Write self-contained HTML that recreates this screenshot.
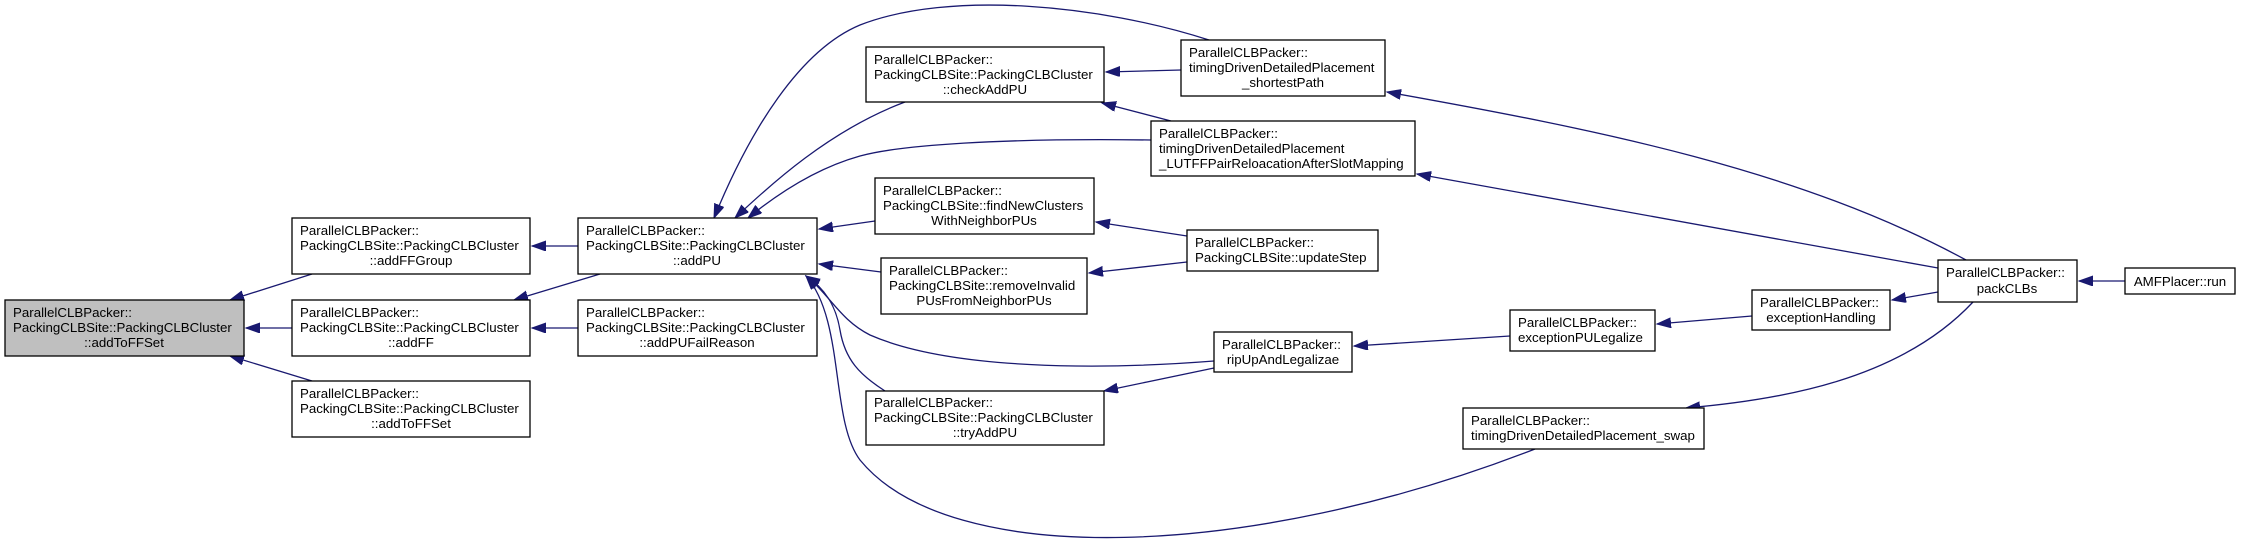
<!DOCTYPE html>
<html><head><meta charset="utf-8"><style>
html,body{margin:0;padding:0;background:#fff;width:2241px;height:540px;overflow:hidden}
text{font-family:"Liberation Sans",Arial,sans-serif;font-size:13.3px;fill:#000}
.b{fill:#fff;stroke:#000;stroke-width:1.3}
.e{fill:none;stroke:#191970;stroke-width:1.3;marker-end:url(#a)}
</style></head><body>
<svg width="2241" height="540" viewBox="0 0 2241 540" xmlns="http://www.w3.org/2000/svg">
<defs><marker id="a" markerUnits="userSpaceOnUse" markerWidth="16" markerHeight="12" refX="14" refY="5" orient="auto"><path d="M0,0 L14,5 L0,10 Z" fill="#191970" stroke="#191970"/></marker></defs>

<!-- edges -->
<path class="e" d="M312,274 L230,300"/>
<path class="e" d="M292,328 L246,328"/>
<path class="e" d="M312,381 L230,356"/>
<path class="e" d="M578,246 L532,246"/>
<path class="e" d="M600,274 L514,300"/>
<path class="e" d="M578,328 L532,328"/>
<path class="e" d="M1209,40 C1100,5 950,-10 860,25 C800,50 750,130 714,218"/>
<path class="e" d="M905,102 C830,130 770,185 735,218"/>
<path class="e" d="M1151,140 C1000,138 900,145 860,156 C810,170 770,200 748,218"/>
<path class="e" d="M875,221 L819,229"/>
<path class="e" d="M881,272 L819,264"/>
<path class="e" d="M1214,361 C1100,370 950,370 870,335 C840,320 830,295 806,276"/>
<path class="e" d="M885,391 C860,375 845,360 840,330 C835,300 820,285 806,276"/>
<path class="e" d="M1535,449 C1250,560 950,570 860,460 C830,420 845,320 806,276"/>
<path class="e" d="M1181,70 L1106,72"/>
<path class="e" d="M1171,121 L1102,103"/>
<path class="e" d="M1187,236 L1096,222"/>
<path class="e" d="M1187,262 L1089,273"/>
<path class="e" d="M1214,368 L1104,391"/>
<path class="e" d="M1966,260 C1800,170 1600,130 1387,92"/>
<path class="e" d="M1938,268 L1417,174"/>
<path class="e" d="M1938,292 L1892,300"/>
<path class="e" d="M2125,281 L2079,281"/>
<path class="e" d="M1752,316 L1657,324"/>
<path class="e" d="M1510,336 L1354,346"/>
<path class="e" d="M1973,302 C1900,380 1780,400 1686,408"/>

<!-- nodes -->
<rect x="5" y="300" width="239" height="56" fill="#bfbfbf" stroke="#000" stroke-width="1.3"/>
<text x="13" y="317">ParallelCLBPacker::</text><text x="13" y="332">PackingCLBSite::PackingCLBCluster</text><text x="124" y="347" text-anchor="middle">::addToFFSet</text>

<rect class="b" x="292" y="218" width="238" height="56"/>
<text x="300" y="235">ParallelCLBPacker::</text><text x="300" y="250">PackingCLBSite::PackingCLBCluster</text><text x="411" y="265" text-anchor="middle">::addFFGroup</text>

<rect class="b" x="292" y="300" width="238" height="56"/>
<text x="300" y="317">ParallelCLBPacker::</text><text x="300" y="332">PackingCLBSite::PackingCLBCluster</text><text x="411" y="347" text-anchor="middle">::addFF</text>

<rect class="b" x="292" y="381" width="238" height="56"/>
<text x="300" y="398">ParallelCLBPacker::</text><text x="300" y="413">PackingCLBSite::PackingCLBCluster</text><text x="411" y="428" text-anchor="middle">::addToFFSet</text>

<rect class="b" x="578" y="218" width="239" height="56"/>
<text x="586" y="235">ParallelCLBPacker::</text><text x="586" y="250">PackingCLBSite::PackingCLBCluster</text><text x="697" y="265" text-anchor="middle">::addPU</text>

<rect class="b" x="578" y="300" width="239" height="56"/>
<text x="586" y="317">ParallelCLBPacker::</text><text x="586" y="332">PackingCLBSite::PackingCLBCluster</text><text x="697" y="347" text-anchor="middle">::addPUFailReason</text>

<rect class="b" x="866" y="47" width="238" height="55"/>
<text x="874" y="64">ParallelCLBPacker::</text><text x="874" y="79">PackingCLBSite::PackingCLBCluster</text><text x="985" y="94" text-anchor="middle">::checkAddPU</text>

<rect class="b" x="875" y="178" width="219" height="56"/>
<text x="883" y="195">ParallelCLBPacker::</text><text x="883" y="210">PackingCLBSite::findNewClusters</text><text x="984" y="225" text-anchor="middle">WithNeighborPUs</text>

<rect class="b" x="881" y="258" width="206" height="56"/>
<text x="889" y="275">ParallelCLBPacker::</text><text x="889" y="290">PackingCLBSite::removeInvalid</text><text x="984" y="305" text-anchor="middle">PUsFromNeighborPUs</text>

<rect class="b" x="866" y="391" width="238" height="54"/>
<text x="874" y="407">ParallelCLBPacker::</text><text x="874" y="422">PackingCLBSite::PackingCLBCluster</text><text x="985" y="437" text-anchor="middle">::tryAddPU</text>

<rect class="b" x="1181" y="40" width="204" height="56"/>
<text x="1189" y="57">ParallelCLBPacker::</text><text x="1189" y="72">timingDrivenDetailedPlacement</text><text x="1283" y="87" text-anchor="middle">_shortestPath</text>

<rect class="b" x="1151" y="121" width="264" height="55"/>
<text x="1159" y="138">ParallelCLBPacker::</text><text x="1159" y="153">timingDrivenDetailedPlacement</text><text x="1159" y="168">_LUTFFPairReloacationAfterSlotMapping</text>

<rect class="b" x="1187" y="230" width="191" height="41"/>
<text x="1195" y="247">ParallelCLBPacker::</text><text x="1195" y="262">PackingCLBSite::updateStep</text>

<rect class="b" x="1214" y="332" width="138" height="40"/>
<text x="1222" y="349">ParallelCLBPacker::</text><text x="1283" y="364" text-anchor="middle">ripUpAndLegalizae</text>

<rect class="b" x="1510" y="310" width="145" height="41"/>
<text x="1518" y="327">ParallelCLBPacker::</text><text x="1518" y="342">exceptionPULegalize</text>

<rect class="b" x="1463" y="408" width="241" height="41"/>
<text x="1471" y="425">ParallelCLBPacker::</text><text x="1471" y="440">timingDrivenDetailedPlacement_swap</text>

<rect class="b" x="1752" y="290" width="138" height="40"/>
<text x="1760" y="307">ParallelCLBPacker::</text><text x="1821" y="322" text-anchor="middle">exceptionHandling</text>

<rect class="b" x="1938" y="260" width="139" height="42"/>
<text x="1946" y="277">ParallelCLBPacker::</text><text x="2007" y="293" text-anchor="middle">packCLBs</text>

<rect class="b" x="2125" y="268" width="110" height="26"/>
<text x="2180" y="286" text-anchor="middle">AMFPlacer::run</text>
</svg>
</body></html>
